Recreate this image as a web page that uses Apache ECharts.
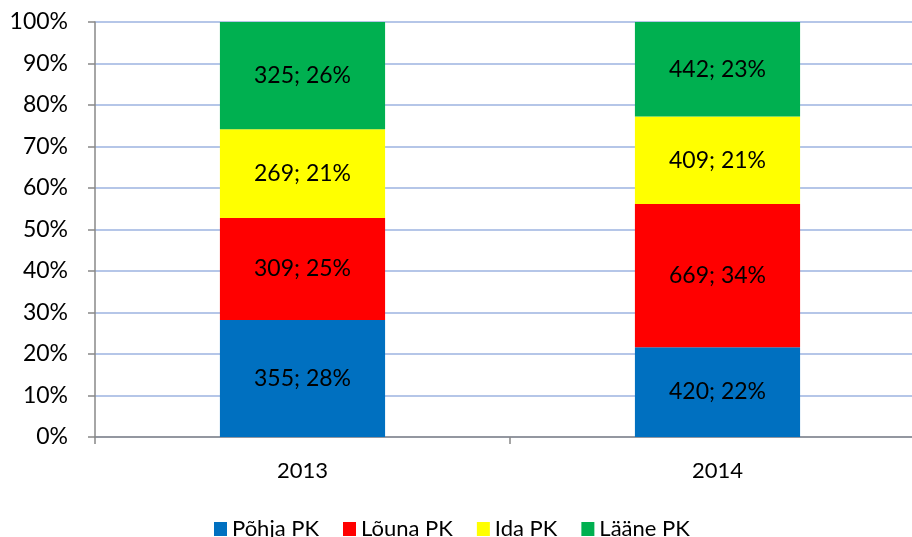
<!DOCTYPE html>
<html><head><meta charset="utf-8">
<script src="https://cdn.jsdelivr.net/npm/echarts@6/dist/echarts.min.js"></script>
<style>html,body{margin:0;padding:0;background:#fff;overflow:hidden}#c{width:925px;height:537px}</style>
</head><body><div id="c"></div>
<script>
const categories = ['2013', '2014'];
const seriesNames = ['Põhja PK', 'Lõuna PK', 'Ida PK', 'Lääne PK'];
const pohja = [355, 420];
const louna = [309, 669];
const ida = [269, 409];
const laane = [325, 442];
const yTicks = [0, 10, 20, 30, 40, 50, 60, 70, 80, 90, 100];
const colors = ['#0070C0', '#FF0000', '#FFFF00', '#00B050'];

const raw = [pohja, louna, ida, laane];
const totals = categories.map((_, i) => raw.reduce((s, a) => s + a[i], 0));
const font = 'Lato, "Open Sans", sans-serif';

const chart = echarts.init(document.getElementById('c'));
chart.setOption({
  animation: false,
  color: colors,
  grid: { left: 95, right: 0, top: 22, bottom: 100 },
  legend: {
    top: 518, left: 214, padding: 0, itemWidth: 13, itemHeight: 14, itemGap: 24, icon: 'rect',
    textStyle: { fontFamily: font, fontSize: 22, color: '#000' },
    data: seriesNames
  },
  xAxis: {
    type: 'category', data: categories,
    axisLine: { lineStyle: { color: '#888', width: 1.5 } },
    axisTick: { show: true, length: 7, lineStyle: { color: '#888', width: 1.5 } },
    axisLabel: { fontFamily: font, fontSize: 22, color: '#000', margin: 23 }
  },
  yAxis: {
    type: 'value', min: 0, max: 100, interval: 10,
    axisLine: { show: true, lineStyle: { color: '#888', width: 1.5 } },
    axisTick: { show: true, length: 7, lineStyle: { color: '#888', width: 1.5 } },
    axisLabel: { fontFamily: font, fontSize: 23, color: '#000', margin: 27,
      formatter: v => yTicks.includes(v) ? v + '%' : '' },
    splitLine: { lineStyle: { color: '#9DB3E0', width: 1.5 } }
  },
  series: seriesNames.map((name, k) => ({
    name, type: 'bar', stack: 'total', barWidth: '39.8%',
    data: raw[k].map((v, i) => v / totals[i] * 100),
    label: {
      show: true, position: 'inside', fontFamily: font, fontSize: 23, color: '#000',
      formatter: p => raw[k][p.dataIndex] + '; ' + Math.round(p.value) + '%'
    }
  }))
});
</script></body></html>
